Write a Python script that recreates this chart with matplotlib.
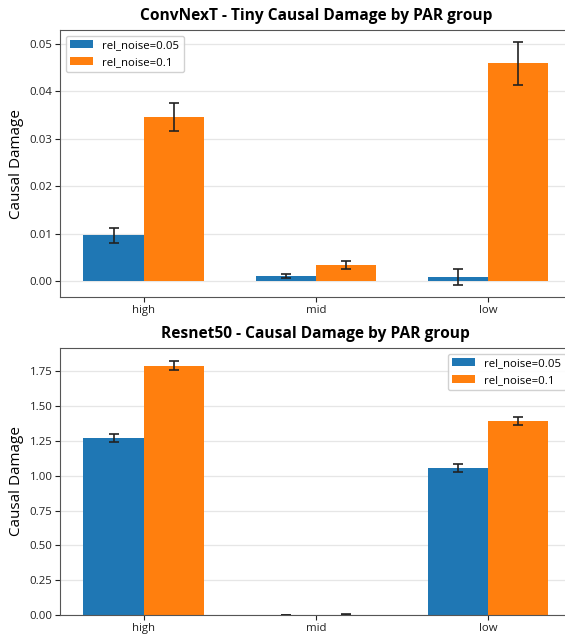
import numpy as np
import matplotlib
matplotlib.use("Agg")
import matplotlib.pyplot as plt

plt.rcParams['font.family'] = ['Open Sans', 'DejaVu Sans']

groups = ['high', 'mid', 'low']
noise_labels = ['rel_noise=0.05', 'rel_noise=0.1']

# ConvNeXT - Tiny
conv_mean_005 = [0.0096, 0.00105, 0.00084]
conv_err_005 = [0.0015, 0.00045, 0.0017]
conv_mean_01 = [0.0346, 0.00335, 0.0459]
conv_err_01 = [0.0030, 0.0009, 0.0045]

# Resnet50
res_mean_005 = [1.272, 0.002, 1.055]
res_err_005 = [0.030, 0.0015, 0.028]
res_mean_01 = [1.792, 0.003, 1.395]
res_err_01 = [0.035, 0.002, 0.030]

colors = ['#1f77b4', '#ff7f0e']
width = 0.35


def draw(ax, means, errs, title, legend_loc):
    x = np.arange(len(groups))
    for i, (m, e) in enumerate(zip(means, errs)):
        ax.bar(x + (i - 0.5) * width, m, width, yerr=e, capsize=3.5,
               color=colors[i], label=noise_labels[i],
               error_kw=dict(ecolor='#222222', elinewidth=1.2, capthick=1.2))
    ax.set_xticks(x)
    ax.set_xticklabels(groups)
    ax.set_title(title, fontsize=11.2, fontweight='bold', pad=7)
    ax.set_ylabel('Causal Damage', fontsize=11)
    ax.yaxis.grid(True, color='#e6e6e6', linewidth=0.9)
    ax.set_axisbelow(True)
    ax.tick_params(labelsize=8.2, colors='#222222', pad=2)
    for s in ax.spines.values():
        s.set_color('#555555')
    ax.legend(loc=legend_loc, fontsize=8.2, borderaxespad=0.5, framealpha=0.9)


fig = plt.figure(figsize=(5.65, 6.35), dpi=100)
ax1 = fig.add_axes([0.1065, 0.532, 0.905, 0.421])
ax2 = fig.add_axes([0.1065, 0.0315, 0.905, 0.4205])

draw(ax1, [conv_mean_005, conv_mean_01], [conv_err_005, conv_err_01],
     'ConvNexT - Tiny Causal Damage by PAR group', 'upper left')
draw(ax2, [res_mean_005, res_mean_01], [res_err_005, res_err_01],
     'Resnet50 - Causal Damage by PAR group', 'upper right')

fig.savefig('out.png', dpi=100)
